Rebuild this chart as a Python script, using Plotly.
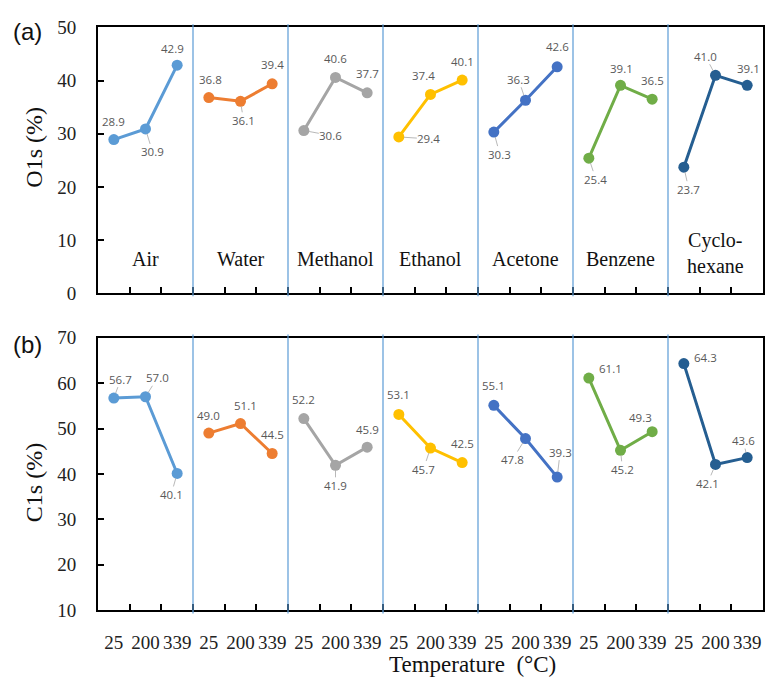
import plotly.graph_objects as go

# ---- data -------------------------------------------------------------
solvents = ["Air", "Water", "Methanol", "Ethanol", "Acetone", "Benzene", "Cyclohexane"]
group_labels = ["Air", "Water", "Methanol", "Ethanol", "Acetone", "Benzene", "Cyclo-<br>hexane"]
temperatures = ["25", "200", "339"]

o1s = {
    "Air": [28.9, 30.9, 42.9],
    "Water": [36.8, 36.1, 39.4],
    "Methanol": [30.6, 40.6, 37.7],
    "Ethanol": [29.4, 37.4, 40.1],
    "Acetone": [30.3, 36.3, 42.6],
    "Benzene": [25.4, 39.1, 36.5],
    "Cyclohexane": [23.7, 41.0, 39.1],
}
c1s = {
    "Air": [56.7, 57.0, 40.1],
    "Water": [49.0, 51.1, 44.5],
    "Methanol": [52.2, 41.9, 45.9],
    "Ethanol": [53.1, 45.7, 42.5],
    "Acetone": [55.1, 47.8, 39.3],
    "Benzene": [61.1, 45.2, 49.3],
    "Cyclohexane": [64.3, 42.1, 43.6],
}

# ---- styling ----------------------------------------------------------
colors = {
    "Air": "#5B9BD5",
    "Water": "#ED7D31",
    "Methanol": "#A5A5A5",
    "Ethanol": "#FFC000",
    "Acetone": "#4472C4",
    "Benzene": "#70AD47",
    "Cyclohexane": "#255E91",
}

# value-label offsets in pixels (dx right, dy down) and whether a leader line is drawn
o1s_label_pos = {
    "Air": [(0, -18, 0), (7, 23, 1), (-5, -17, 0)],
    "Water": [(2, -18, 0), (3, 19, 1), (0, -19, 0)],
    "Methanol": [(27, 5, 1), (0, -19, 0), (0, -19, 0)],
    "Ethanol": [(30, 2, 1), (-7, -19, 0), (0, -19, 0)],
    "Acetone": [(6, 22, 1), (-7, -21, 1), (0, -20, 0)],
    "Benzene": [(7, 21, 1), (1, -17, 0), (0, -19, 0)],
    "Cyclohexane": [(5, 22, 1), (-10, -19, 1), (1, -17, 0)],
}
c1s_label_pos = {
    "Air": [(7, -19, 1), (12, -19, 1), (-6, 21, 1)],
    "Water": [(0, -18, 0), (5, -18, 0), (0, -19, 0)],
    "Methanol": [(0, -19, 0), (0, 20, 1), (0, -18, 0)],
    "Ethanol": [(0, -20, 0), (-7, 21, 1), (0, -19, 0)],
    "Acetone": [(0, -20, 0), (-13, 21, 1), (3, -25, 1)],
    "Benzene": [(22, -10, 0), (2, 19, 1), (-12, -14, 0)],
    "Cyclohexane": [(22, -6, 0), (-8, 19, 1), (-4, -17, 1)],
}

W, H = 767, 690
SERIF = "Liberation Serif, Times New Roman, serif"
SANS = "Liberation Sans, Arial, sans-serif"
LABEL_FONT = dict(family="Open Sans, sans-serif", size=11.5, color="#595959")

x_left, x_right = 98 / W, 763 / W
panel_a = (1 - 292 / H, 1 - 18 / H)
panel_b = (1 - 619 / H, 1 - 338 / H)

fig = go.Figure()
annotations = []
shapes = []

n_temp = len(temperatures)
for panel, (data, pos, xa, ya) in enumerate(
    [(o1s, o1s_label_pos, "x", "y"), (c1s, c1s_label_pos, "x2", "y2")]
):
    for gi, s in enumerate(solvents):
        xs = [gi * n_temp + k for k in range(n_temp)]
        ys = data[s]
        fig.add_trace(go.Scatter(
            x=xs, y=ys, mode="lines+markers", xaxis=xa, yaxis=ya,
            line=dict(color=colors[s], width=3),
            marker=dict(color=colors[s], size=11),
            showlegend=False, cliponaxis=False,
        ))
        for k, (xv, yv) in enumerate(zip(xs, ys)):
            dx, dy, leader = pos[s][k]
            annotations.append(dict(
                x=xv, y=yv, xref=xa, yref=ya, text=f"{yv:.1f}",
                showarrow=True, ax=dx, ay=dy, arrowhead=0, standoff=5,
                arrowwidth=0.8,
                arrowcolor="#A6A6A6" if leader else "rgba(0,0,0,0)",
                font=LABEL_FONT, borderpad=0,
            ))
    # group separators
    for b in range(1, len(solvents)):
        shapes.append(dict(
            type="line", xref=xa, yref=f"{ya} domain",
            x0=b * n_temp - 0.5, x1=b * n_temp - 0.5, y0=-0.012, y1=1.012,
            line=dict(color="#5B9BD5", width=1.2),
        ))

# solvent names inside panel (a)
for gi, name in enumerate(group_labels):
    annotations.append(dict(
        x=gi * n_temp + 1, y=7.6 if "<br>" in name else 6.4, xref="x", yref="y",
        text=name, showarrow=False, xanchor="center", yanchor="middle",
        font=dict(family=SERIF, size=20, color="#111111"),
    ))


def paper_text(x, y, text, font, angle=0):
    return dict(x=x / W, y=1 - y / H, xref="paper", yref="paper", text=text,
                showarrow=False, xanchor="center", yanchor="middle",
                textangle=angle, font=font)


# panel tags and axis titles
annotations += [
    paper_text(27, 22, "(a)", dict(family=SANS, size=24, color="#111111")),
    paper_text(28, 345, "(b)", dict(family=SANS, size=24, color="#111111")),
    paper_text(34, 142, "O1s (%)", dict(family=SERIF, size=24, color="#111111"), -90),
    paper_text(34, 488, "C1s (%)", dict(family=SERIF, size=24, color="#111111"), -90),
    paper_text(472, 675, "Temperature\u00a0\u00a0(°C)",
               dict(family=SERIF, size=23, color="#111111")),
]

n_pts = len(solvents) * n_temp
boundaries = [i + 0.5 for i in range(n_pts - 1)]
common_x = dict(
    range=[-0.5, n_pts - 0.5], showline=True, mirror=True, linecolor="black", linewidth=2,
    showgrid=False, zeroline=False, ticks="",
    minor=dict(tickmode="array", tickvals=boundaries, ticks="inside", ticklen=6,
               tickcolor="black", tickwidth=1.5, showgrid=False),
    domain=[x_left, x_right],
)
common_y = dict(
    showline=True, mirror=True, linecolor="black", linewidth=2, showgrid=False,
    zeroline=False, ticks="inside", ticklen=6, tickwidth=1.5, tickcolor="black",
    tickfont=dict(family=SERIF, size=19, color="#222222"), dtick=10,
    ticklabelstandoff=16,
)

fig.update_layout(
    width=W, height=H, margin=dict(l=0, r=0, t=0, b=0),
    paper_bgcolor="white", plot_bgcolor="white",
    xaxis=dict(common_x, anchor="y", showticklabels=False),
    yaxis=dict(common_y, domain=list(panel_a), range=[0, 50], anchor="x"),
    xaxis2=dict(common_x, anchor="y2", tickmode="array", tickvals=list(range(n_pts)),
                ticktext=temperatures * len(solvents), showticklabels=True,
                tickfont=dict(family=SERIF, size=19, color="#222222"),
                ticklabelstandoff=14),
    yaxis2=dict(common_y, domain=list(panel_b), range=[10, 70], anchor="x2"),
    annotations=annotations, shapes=shapes,
)

fig.write_html("out.html")
